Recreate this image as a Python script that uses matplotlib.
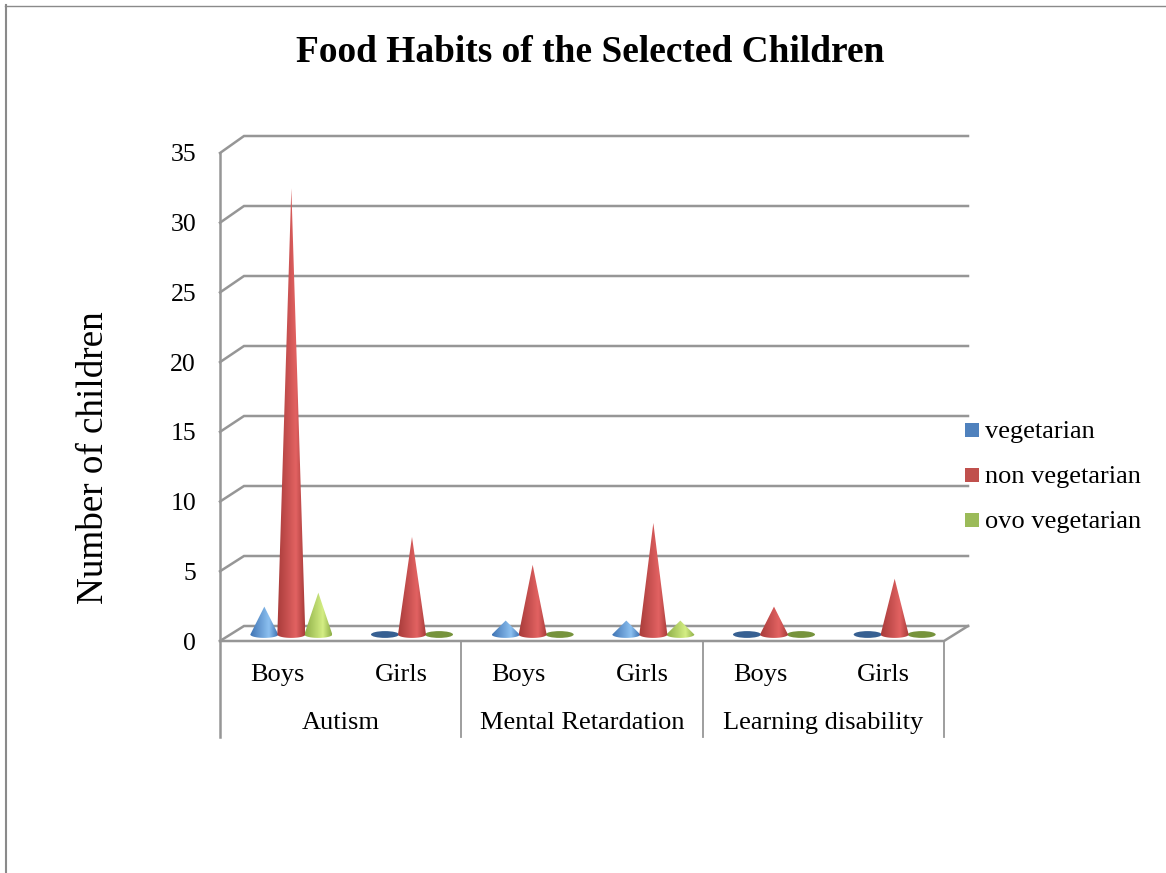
import matplotlib
matplotlib.use('Agg')
import matplotlib.pyplot as plt
import matplotlib.patches as patches
from matplotlib.colors import LinearSegmentedColormap
from matplotlib.path import Path
import numpy as np

plt.rcParams['font.family'] = ['Liberation Serif', 'DejaVu Serif']

groups = ['Autism', 'Mental Retardation', 'Learning disability']
genders = ['Boys', 'Girls', 'Boys', 'Girls', 'Boys', 'Girls']
series_names = ['vegetarian', 'non vegetarian', 'ovo vegetarian']
vegetarian = [2, 0, 1, 1, 0, 0]
non_vegetarian = [32, 7, 5, 8, 2, 4]
ovo_vegetarian = [3, 0, 0, 1, 0, 0]
y_ticks = [0, 5, 10, 15, 20, 25, 30, 35]

W, H = 1166, 873
left, right, bottom, top = 220, 944, 641, 153
grid_color = '#969696'

fig = plt.figure(figsize=(W / 100, H / 100), dpi=100)
ax = fig.add_axes([left / W, 1 - bottom / H, (right - left) / W, (bottom - top) / H])
ax.axis('off')

px_x = 6 / (right - left)
px_y = 35 / (bottom - top)
depth_x = 24 * px_x
depth_y = 15 * px_y
back_scale = 490 / 488

# walls and floor of the 3d box
for v in y_ticks:
    back = depth_y + v * back_scale
    ax.plot([0, depth_x, 6 + depth_x], [v, back, back],
            color=grid_color, lw=1.8, clip_on=False, solid_joinstyle='miter')
ax.plot([0, 0], [35, -96 * px_y], color=grid_color, lw=1.8, clip_on=False)
ax.plot([0, 6, 6 + depth_x], [0, 0, depth_y], color=grid_color, lw=1.8, clip_on=False)
for i in [2, 4, 6]:
    ax.plot([i, i], [0, -96 * px_y], color=grid_color, lw=1.3, clip_on=False)

# (dark side, lit side, flat ellipse for zero values)
shades = [('#3f74b4', '#8cc0f0', '#376092'),
          ('#a83c3a', '#e26262', '#a43c3a'),
          ('#8cad46', '#d4ee84', '#76933c')]
values = [vegetarian, non_vegetarian, ovo_vegetarian]
half_w = 14 * px_x
half_h = 3.4 * px_y
base = 6.5 * px_y


def draw_cone(x, v, dark, light, flat, order):
    t = np.linspace(0, np.pi, 40)
    rim = np.column_stack([x + half_w * np.cos(t), base - half_h * np.sin(t)])
    if v == 0:
        ax.add_patch(patches.Ellipse((x, base), 2 * half_w, 2 * half_h, facecolor=flat,
                                     edgecolor='none', zorder=order))
        return
    # rim runs right to left along the front of the base, then up to the tip
    pts = np.vstack([rim, [[x, base + v]], rim[:1]])
    shape = patches.PathPatch(Path(pts), transform=ax.transData, facecolor='none', edgecolor='none')
    ax.add_patch(shape)
    cmap = LinearSegmentedColormap.from_list('cone', [(0, dark), (0.68, light), (1, dark)])
    grad = np.linspace(0, 1, 128).reshape(1, -1)
    im = ax.imshow(grad, cmap=cmap, aspect='auto', zorder=order,
                   extent=[x - half_w, x + half_w, base - half_h, base + v])
    im.set_clip_path(shape)


for s in range(3):
    for i in range(6):
        x = i + 0.5 + 11 * px_x + (s - 1) * 27 * px_x
        draw_cone(x, values[s][i], shades[s][0], shades[s][1], shades[s][2], 3 + (s == 1))

ax.set_xlim(0, 6)
ax.set_ylim(0, 35)

# y tick labels
for v in y_ticks:
    ax.text(-24 * px_x, v - 2.5 * px_y, str(v), ha='right', va='center', fontsize=18.5, clip_on=False)

# two level category axis
for i, name in enumerate(genders):
    ax.text(i + 0.5 - 3 * px_x + (i % 2) * 3 * px_x, -34 * px_y, name, ha='center', va='center',
            fontsize=19, clip_on=False)
for i, name in enumerate(groups):
    ax.text(2 * i + 1, -82 * px_y, name, ha='center', va='center', fontsize=19, clip_on=False)

fig.text(590 / W, 1 - 52 / H, 'Food Habits of the Selected Children', ha='center', va='center',
         fontsize=26.9, fontweight='bold')
fig.text(94 / W, 1 - 458 / H, 'Number of children', rotation=90, ha='center', va='center', fontsize=26.7)

# legend
legend_colors = ['#4f81bd', '#c0504d', '#9bbb59']
for i, name in enumerate(series_names):
    y = 430 + 45 * i
    fig.add_artist(patches.Rectangle((965 / W, 1 - (y + 7) / H), 14 / W, 14 / H,
                                     transform=fig.transFigure, facecolor=legend_colors[i], edgecolor='none'))
    fig.text(985 / W, 1 - (y + 2) / H, name, ha='left', va='center', fontsize=19)

# page border
fig.add_artist(plt.Line2D([6 / W, 6 / W], [0, 1 - 5 / H], color='#8a8a8a', lw=1.5))
fig.add_artist(plt.Line2D([5 / W, 1], [1 - 5.5 / H, 1 - 5.5 / H], color='#8a8a8a', lw=1.0))

fig.savefig('out.png', dpi=100)
